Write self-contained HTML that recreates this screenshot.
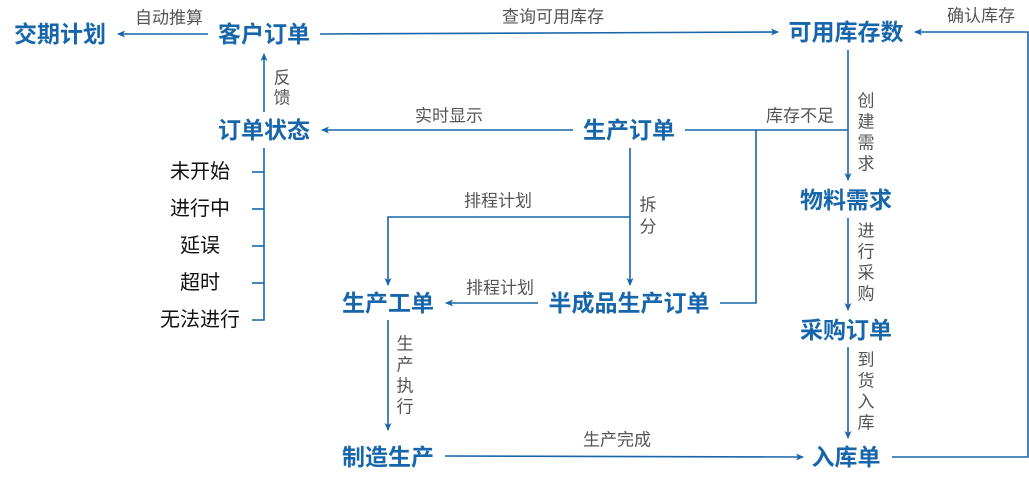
<!DOCTYPE html>
<html><head><meta charset="utf-8"><style>
body{margin:0;background:#fff}
svg{display:block}
.n{font-family:"Liberation Sans","Noto Sans CJK SC",sans-serif;font-weight:bold;font-size:23px;fill:#1766ac;text-anchor:middle;dominant-baseline:central}
.l{font-family:"Liberation Sans","Noto Sans CJK SC",sans-serif;font-size:17px;fill:#555;text-anchor:middle;dominant-baseline:central}
.s{font-family:"Liberation Sans","Noto Sans CJK SC",sans-serif;font-size:20px;fill:#111;text-anchor:middle;dominant-baseline:central}
line,polyline{stroke:#1766ac;stroke-width:1.6;fill:none}
</style></head><body>
<svg width="1029" height="484" viewBox="0 0 1029 484">
<defs><marker id="a" markerWidth="8" markerHeight="8" refX="7" refY="4" orient="auto" markerUnits="userSpaceOnUse"><path d="M0,0.5 L8,4 L0,7.5 L2,4 Z" fill="#1766ac"/></marker></defs>
<text class="n" x="60" y="34">交期计划</text>
<text class="n" x="264" y="34">客户订单</text>
<text class="n" x="846" y="32">可用库存数</text>
<text class="n" x="264" y="130">订单状态</text>
<text class="n" x="629" y="130">生产订单</text>
<text class="n" x="846" y="200">物料需求</text>
<text class="n" x="846" y="330">采购订单</text>
<text class="n" x="629" y="303">半成品生产订单</text>
<text class="n" x="388" y="303">生产工单</text>
<text class="n" x="388" y="457">制造生产</text>
<text class="n" x="846" y="457">入库单</text>

<line x1="208" y1="34" x2="118" y2="34" marker-end="url(#a)"/>
<text class="l" x="169" y="18">自动推算</text>
<line x1="320" y1="34" x2="778" y2="32" marker-end="url(#a)"/>
<text class="l" x="553" y="17">查询可用库存</text>
<polyline points="892,457 1028,457 1028,32 915,32" marker-end="url(#a)"/>
<text class="l" x="981" y="16">确认库存</text>

<line x1="848" y1="50" x2="848" y2="180" marker-end="url(#a)"/>
<text class="l" x="866" y="101">创</text><text class="l" x="866" y="122">建</text><text class="l" x="866" y="143">需</text><text class="l" x="866" y="164">求</text>
<line x1="848" y1="218" x2="848" y2="310" marker-end="url(#a)"/>
<text class="l" x="866" y="231">进</text><text class="l" x="866" y="252">行</text><text class="l" x="866" y="273">采</text><text class="l" x="866" y="294">购</text>
<line x1="848" y1="347" x2="848" y2="438" marker-end="url(#a)"/>
<text class="l" x="866" y="360">到</text><text class="l" x="866" y="381">货</text><text class="l" x="866" y="402">入</text><text class="l" x="866" y="423">库</text>

<line x1="264" y1="112" x2="264" y2="54" marker-end="url(#a)"/>
<text class="l" x="282" y="78">反</text><text class="l" x="282" y="98">馈</text>
<line x1="573" y1="130" x2="322" y2="130" marker-end="url(#a)"/>
<text class="l" x="449" y="116">实时显示</text>
<line x1="685" y1="130" x2="848" y2="130"/>
<polyline points="756,130 756,303 720,303"/>
<text class="l" x="800" y="116">库存不足</text>

<line x1="630" y1="148" x2="630" y2="285" marker-end="url(#a)"/>
<text class="l" x="648" y="205">拆</text><text class="l" x="648" y="227">分</text>
<polyline points="630,217 388,217 388,285" marker-end="url(#a)"/>
<text class="l" x="498" y="201">排程计划</text>
<line x1="538" y1="303" x2="446" y2="303" marker-end="url(#a)"/>
<text class="l" x="500" y="288">排程计划</text>

<line x1="388" y1="320" x2="388" y2="430" marker-end="url(#a)"/>
<text class="l" x="405" y="344">生</text><text class="l" x="405" y="365">产</text><text class="l" x="405" y="386">执</text><text class="l" x="405" y="407">行</text>
<line x1="445" y1="456" x2="803" y2="457" marker-end="url(#a)"/>
<text class="l" x="617" y="440">生产完成</text>

<polyline points="264,148 264,320 252,320"/>
<line x1="252" y1="172" x2="264" y2="172"/>
<line x1="252" y1="209" x2="264" y2="209"/>
<line x1="252" y1="246" x2="264" y2="246"/>
<line x1="252" y1="283" x2="264" y2="283"/>
<text class="s" x="200" y="172">未开始</text>
<text class="s" x="200" y="209">进行中</text>
<text class="s" x="200" y="246">延误</text>
<text class="s" x="200" y="283">超时</text>
<text class="s" x="200" y="320">无法进行</text>
</svg>
</body></html>
